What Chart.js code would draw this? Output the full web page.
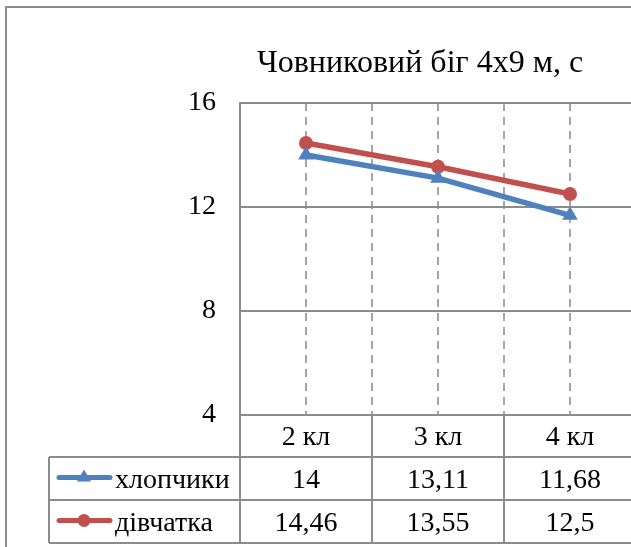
<!DOCTYPE html>
<html lang="uk">
<head>
<meta charset="utf-8">
<script src="https://cdn.jsdelivr.net/npm/chart.js@4.4.1/dist/chart.umd.min.js"></script>
<style>
  html, body { margin: 0; padding: 0; background: #fff; overflow: hidden; width: 631px; height: 547px; }
  #frame { position: absolute; left: 5px; top: 6px; width: 700px; height: 600px; border: 2px solid #8c8c8c; }
  #wrap { position: absolute; left: 0; top: 0; width: 660px; height: 547px; }
</style>
</head>
<body>
<div id="frame"></div>
<div id="wrap"><canvas id="chart" width="660" height="547"></canvas></div>
<script>
// chart values
const categories = ["2 кл", "3 кл", "4 кл"];
const boys = [14, 13.11, 11.68];
const girls = [14.46, 13.55, 12.5];
const seriesNames = ["хлопчики", "дівчатка"];
const yTicks = [4, 8, 12, 16];
const chartTitle = "Човниковий біг 4х9 м, с";

const blue = "#4f81bd";
const red = "#c0504d";
const gridGray = "#8c8c8c";
const dashGray = "#a6a6a6";
const serif = "'Liberation Serif', 'Times New Roman', serif";

// format numbers the Ukrainian way (comma)
function fmt(v) {
  return String(v).replace(".", ",");
}

// title + data table under the plot
const tablePlugin = {
  id: "dataTable",
  afterDraw(chart) {
    const ctx = chart.ctx;
    const x = chart.scales.x;
    const area = chart.chartArea;
    const top = area.bottom;
    const rows = [top, top + 42, top + 85, top + 128];
    const tableLeft = 49;
    const cols = [-0.5, 0.5, 1.5, 2.5].map(v => x.getPixelForValue(v));

    ctx.save();
    // title
    ctx.fillStyle = "#000";
    ctx.font = "32px " + serif;
    ctx.textAlign = "center";
    ctx.textBaseline = "alphabetic";
    ctx.fillText(chartTitle, 420, 72);

    // table lines
    ctx.strokeStyle = gridGray;
    ctx.lineWidth = 2;
    ctx.beginPath();
    for (let r = 1; r < rows.length; r++) {
      ctx.moveTo(tableLeft, rows[r]);
      ctx.lineTo(cols[cols.length - 1], rows[r]);
    }
    ctx.moveTo(tableLeft, rows[1]);
    ctx.lineTo(tableLeft, rows[3]);
    cols.forEach(c => {
      ctx.moveTo(c, rows[0]);
      ctx.lineTo(c, rows[3]);
    });
    ctx.stroke();

    // header
    ctx.font = "28px " + serif;
    ctx.textBaseline = "middle";
    categories.forEach((c, i) => {
      ctx.fillText(c, x.getPixelForValue(i), (rows[0] + rows[1]) / 2 + 2);
    });

    // series rows
    const series = [
      { name: seriesNames[0], vals: boys, color: blue, shape: "triangle" },
      { name: seriesNames[1], vals: girls, color: red, shape: "circle" }
    ];
    series.forEach((s, r) => {
      const cy = (rows[r + 1] + rows[r + 2]) / 2 + 1;
      ctx.textAlign = "center";
      ctx.fillStyle = "#000";
      s.vals.forEach((v, i) => {
        ctx.fillText(fmt(v), x.getPixelForValue(i), cy + 1);
      });
      // legend key
      ctx.strokeStyle = s.color;
      ctx.lineWidth = 5;
      ctx.lineCap = "round";
      ctx.beginPath();
      ctx.moveTo(59, cy - 2);
      ctx.lineTo(110, cy - 2);
      ctx.stroke();
      ctx.fillStyle = s.color;
      if (s.shape === "circle") {
        ctx.beginPath();
        ctx.arc(84, cy - 2, 6.5, 0, Math.PI * 2);
        ctx.fill();
      } else {
        ctx.beginPath();
        ctx.moveTo(84, cy - 10);
        ctx.lineTo(91, cy + 2);
        ctx.lineTo(77, cy + 2);
        ctx.closePath();
        ctx.fill();
      }
      ctx.fillStyle = "#000";
      ctx.textAlign = "left";
      ctx.fillText(s.name, 115, cy + 1);
    });
    ctx.restore();
  }
};

const ctx = document.getElementById("chart").getContext("2d");
new Chart(ctx, {
  type: "line",
  data: {
    datasets: [
      {
        label: seriesNames[0],
        data: boys.map((v, i) => ({ x: i, y: v })),
        borderColor: blue,
        backgroundColor: blue,
        borderWidth: 5.5,
        pointStyle: "triangle",
        pointRadius: 9,
        pointBorderWidth: 0,
        tension: 0
      },
      {
        label: seriesNames[1],
        data: girls.map((v, i) => ({ x: i, y: v })),
        borderColor: red,
        backgroundColor: red,
        borderWidth: 5.5,
        pointStyle: "circle",
        pointRadius: 7,
        pointBorderWidth: 0,
        tension: 0
      }
    ]
  },
  options: {
    responsive: false,
    animation: false,
    layout: { padding: { left: 0, top: 103, right: 24, bottom: 132 } },
    plugins: {
      legend: { display: false },
      tooltip: { enabled: false }
    },
    scales: {
      x: {
        type: "linear",
        min: -0.5,
        max: 2.5,
        ticks: { display: false, stepSize: 0.5 },
        grid: { color: dashGray, lineWidth: 2, drawTicks: false },
        border: { display: true, color: gridGray, width: 2, dash: [8, 6] },
        afterFit(scale) { scale.height = 0; }
      },
      y: {
        min: yTicks[0],
        max: yTicks[yTicks.length - 1],
        afterBuildTicks(scale) { scale.ticks = yTicks.map(v => ({ value: v })); },
        ticks: {
          color: "#000",
          font: { family: serif, size: 28 },
          padding: 24
        },
        grid: { color: gridGray, lineWidth: 2, drawTicks: false },
        border: { display: true, color: gridGray, width: 2 },
        afterFit(scale) { scale.width = 240; }
      }
    }
  },
  plugins: [tablePlugin]
});
</script>
</body>
</html>
